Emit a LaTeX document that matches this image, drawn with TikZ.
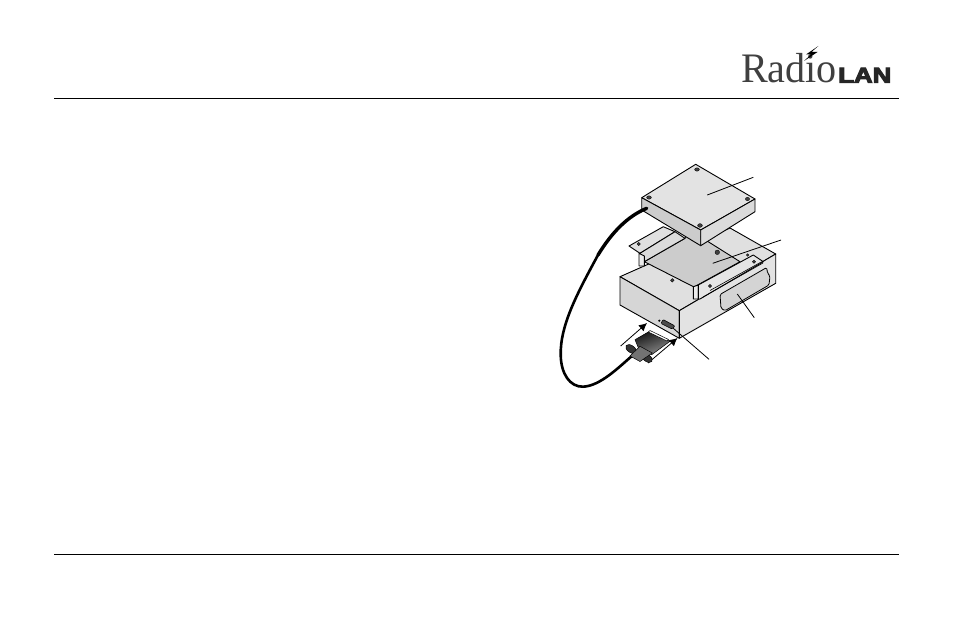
\documentclass[tikz,border=0pt]{standalone}
\usepackage{fontspec}
\usepackage{tikz}
\usetikzlibrary{arrows.meta}
\newfontfamily\logoserif{Liberation Serif}
\newfontfamily\logosans[BoldFeatures={FakeBold=4.5}]{Liberation Sans}
\tikzset{
	part/.style={draw=black, line width=0.9pt, line join=round},
	leader/.style={draw=black, line width=0.8pt},
	rule/.style={draw=black, line width=0.8pt},
	hole/.style={fill=black!75, draw=black, line width=0.3pt},
	insert/.style={draw=black, line width=0.8pt, -{Latex[length=8pt,width=8pt]}},
	screw/.style={fill=black!80, draw=black, line width=0.5pt},
}
\begin{document}
\begin{tikzpicture}[x=1pt, y=-1pt]
			\useasboundingbox (0,0) rectangle (954,618);
			% header, footer
			\coordinate (t-l) at (54,98);
			\coordinate (t-r) at (899,98);
			\coordinate (b-l) at (54,554);
			\coordinate (b-r) at (899,554);
			\draw[rule] (t-l) -- (t-r);
			\draw[rule] (b-l) -- (b-r);
			% logo
			\node[anchor=base west, inner sep=0pt, text=black!75, xscale=0.955, font=\logoserif\fontsize{42}{42}\selectfont] (radio) at (741,83) {Radio};
			\node[anchor=base west, inner sep=0pt, text=black!85, xscale=1.2, font=\logosans\bfseries\fontsize{21.5}{21.5}\selectfont] (lan) at (838,82.7) {LAN};
			\fill[black] (818.3,46) -- (806,54.5) -- (811,54.5) -- (804,61) -- (817.5,52) -- (811.5,52) -- cycle;
			% box
			\fill[part, fill=black!12] (620,276.7) -- (730,228) -- (775.7,254) -- (679.3,310.7) -- cycle;
			\fill[part, fill=black!16] (620,276.7) -- (679.3,310.7) -- (679.3,338.3) -- (620,305) -- cycle;
			\fill[part, fill=black!11] (679.3,310.7) -- (775.7,254) -- (775.7,283.3) -- (679.3,338.3) -- cycle;
			% window in the side
			\draw[part, fill=black!17, line width=0.8pt, rounded corners=1.5pt] (720,294.5) -- (766.7,267.5) -- (767.5,273) -- (770,276) -- (769,285) -- (725,310.7) -- (721,308.3) -- cycle;
			% plate and brackets
			\fill[part, fill=black!20] (644.3,261.7) -- (685,238.3) -- (688,229) -- (740,261.7) -- (694,287) -- cycle;
			\fill[part, fill=black!12] (629,246) -- (663.3,226.7) -- (675,231.7) -- (640,253.3) -- cycle;
			\fill[part, fill=black!14] (640,253.3) -- (675,231.7) -- (685,238.3) -- (644.3,261.7) -- cycle;
			\fill[part, fill=black!8] (639,253.3) -- (644.3,256) -- (644.3,266) -- (639,266) -- cycle;
			\fill[part, fill=black!8] (693.3,286.7) -- (698.3,285) -- (698.3,299) -- (693.3,299) -- cycle;
			\fill[part, fill=black!10] (698.3,285) -- (753.3,255) -- (763.3,261.7) -- (700,299) -- (698.3,299) -- cycle;
			\draw[part, line width=0.6pt] (703,297) -- (763,263);
			\draw[part, line width=0.6pt] (710,290.5) -- (761.7,261.7);
			\fill[hole] (638.7,244) circle (1.6);
			\fill[hole] (717.3,252.3) circle (2.3);
			\fill[hole] (672.3,280.3) circle (1.8);
			\fill[hole] (710,286) circle (1.6);
			\fill[hole] (754,261.7) circle (1.6);
			\fill[hole] (747.7,255) circle (1.3);
			% module
			\fill[part, fill=black!11] (695.7,164.3) -- (755,199) -- (700.7,230) -- (641.7,197.7) -- cycle;
			\fill[part, fill=black!20] (641.7,197.7) -- (700.7,230) -- (700.7,245.7) -- (641.7,210) -- cycle;
			\fill[part, fill=black!14] (700.7,230) -- (755,199) -- (755,211.7) -- (700.7,245.7) -- cycle;
			\fill[hole] (697,169.5) ellipse (2.4 and 1.7);
			\fill[hole] (649,197.5) ellipse (2.4 and 1.7);
			\fill[hole] (747.5,199) ellipse (2.2 and 1.7);
			\fill[hole] (700,225.5) ellipse (2.4 and 1.9);
			% leaders
			\coordinate (m-in) at (707.3,195);
			\coordinate (m-out) at (753.3,177.3);
			\coordinate (p-in) at (712.7,263.3);
			\coordinate (p-out) at (781,240);
			\coordinate (w-in) at (737.3,294);
			\coordinate (w-out) at (754.3,317.7);
			\coordinate (c-in) at (673.3,328.3);
			\coordinate (c-out) at (709,359.3);
			\draw[leader] (m-in) -- (m-out);
			\draw[leader] (p-in) -- (p-out);
			\draw[leader] (w-in) -- (w-out);
			\draw[leader] (c-in) -- (c-out);
			% port
			\fill[black!70, draw=black, line width=0.6pt, rounded corners=1pt] (663,319.5) -- (675,326) -- (672,329) -- (661,323.5) -- cycle;
			\fill[black] (659.3,320.7) circle (1.2);
			% cable
			\draw[black, line width=3.4pt, line cap=round] (646.7,208.3) .. controls (628,216) and (612,232) .. (598,255);
			\draw[black, line width=2.6pt, line cap=round] (598,255) .. controls (578,292) and (560,325) .. (560.7,355)
				.. controls (561,374) and (570,387) .. (583,386.7)
				.. controls (600,386) and (618,368) .. (633,355);
			% insert arrows
			\coordinate (a1-s) at (620.7,346);
			\coordinate (a1-e) at (647,323);
			\coordinate (a2-s) at (648,363);
			\coordinate (a2-e) at (677.5,338);
			\draw[insert] (a1-s) -- (a1-e);
			\draw[insert] (a2-s) -- (a2-e);
			% plug
			\fill[screw, rotate around={-35:(631,349)}] (631,349) ellipse (6 and 3.5);
			\fill[screw, rotate around={-35:(647,358)}] (647,358) ellipse (6 and 3.5);
			\shade[left color=black!90, right color=black!45, shading angle=20, draw=black, line width=0.5pt] (635,339.7) -- (648.3,332) -- (670,341.3) -- (651.7,354.7) -- (638,347) -- cycle;
			\fill[part, fill=white, line width=0.5pt] (648.3,332) -- (650,330.5) -- (668.5,339.5) -- (667,341) -- cycle;
			\fill[black!55, draw=black, line width=0.5pt] (630,356) -- (640,346.3) -- (652.3,353) -- (640,361.5) -- cycle;
		\end{tikzpicture}
\end{document}
